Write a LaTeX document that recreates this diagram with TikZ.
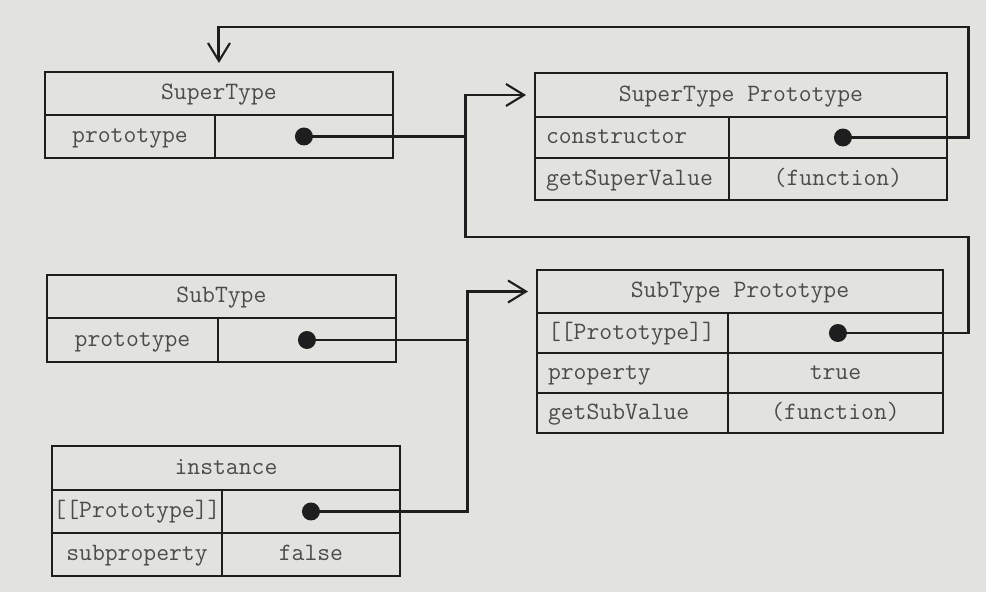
\documentclass[tikz,border=0pt]{standalone}
\usetikzlibrary{arrows.meta}

\definecolor{paper}{RGB}{226,226,223}
\definecolor{ink}{RGB}{30,30,30}

\newcommand*{\busx}{465}
\newcommand*{\rightx}{968}

\begin{document}
\begin{tikzpicture}[x=0.02cm,y=-0.02cm,
	cell/.style={draw=ink,line width=1.5pt,inner sep=0pt,outer sep=0pt,anchor=north west,
		minimum height=0.86cm,text height=9pt,text depth=2pt,
		font=\fontsize{14.2}{16}\ttfamily,text=ink!80},
	keycell/.style={cell,align=left,text width=#1,inner xsep=0.22cm},
	dot/.style={circle,fill=ink,inner sep=0pt,minimum size=0.36cm},
	link/.style={draw=ink,line width=1.7pt},
	pointer/.style={link,-{Straight Barb[length=0.36cm,width=0.44cm,line width=1.2pt]},shorten >=0.18cm}]

	\fill[paper] (0,0) rectangle (986,592);

	% SuperType
	\node[cell,minimum width=6.96cm] (superhead) at (45,72) {SuperType};
	\node[cell,minimum width=3.40cm] (superkey) at (superhead.south west) {prototype};
	\node[cell,minimum width=3.56cm] (superval) at (superkey.north east) {};
	\node[dot] (superdot) at (superval.center) {};

	% SuperType Prototype
	\node[cell,minimum width=8.24cm,minimum height=0.88cm] (superprohead) at (535,73) {SuperType Prototype};
	\node[keycell=3.44cm,minimum height=0.82cm] (constrkey) at (superprohead.south west) {constructor};
	\node[cell,minimum width=4.36cm,minimum height=0.82cm] (constrval) at (constrkey.north east) {};
	\node[keycell=3.44cm,minimum height=0.84cm] (getsuperkey) at (constrkey.south west) {getSuperValue};
	\node[cell,minimum width=4.36cm,minimum height=0.84cm] (getsuperval) at (getsuperkey.north east) {(function)};
	\node[dot] (constrdot) at ([xshift=0.1cm]constrval.center) {};

	% SubType
	\node[cell,minimum width=6.98cm] (subhead) at (47,275) {SubType};
	\node[cell,minimum width=3.42cm,minimum height=0.88cm] (subkey) at (subhead.south west) {prototype};
	\node[cell,minimum width=3.56cm,minimum height=0.88cm] (subval) at (subkey.north east) {};
	\node[dot] (subdot) at (subval.center) {};

	% SubType Prototype
	\node[cell,minimum width=8.12cm] (subprohead) at (537,270) {SubType Prototype};
	\node[keycell=3.38cm,minimum height=0.80cm] (subprotokey) at (subprohead.south west) {[[Prototype]]};
	\node[cell,minimum width=4.30cm,minimum height=0.80cm] (subprotoval) at (subprotokey.north east) {};
	\node[keycell=3.38cm,minimum height=0.80cm] (propkey) at (subprotokey.south west) {property};
	\node[cell,minimum width=4.30cm,minimum height=0.80cm] (propval) at (propkey.north east) {true};
	\node[keycell=3.38cm,minimum height=0.80cm] (getsubkey) at (propkey.south west) {getSubValue};
	\node[cell,minimum width=4.30cm,minimum height=0.80cm] (getsubval) at (getsubkey.north east) {(function)};
	\node[dot] (subprodot) at ([xshift=0.05cm]subprotoval.center) {};

	% instance
	\node[cell,minimum width=6.96cm,minimum height=0.88cm] (insthead) at (52,446) {instance};
	\node[cell,minimum width=3.40cm] (instkey) at (insthead.south west) {[[Prototype]]};
	\node[cell,minimum width=3.56cm] (instval) at (instkey.north east) {};
	\node[cell,minimum width=3.40cm] (subpropkey) at (instkey.south west) {subproperty};
	\node[cell,minimum width=3.56cm] (subpropval) at (subpropkey.north east) {false};
	\node[dot] (instdot) at (instval.center) {};

	% bends
	\coordinate (supbus) at (\busx,237);
	\coordinate (subbus) at (467,293);
	\coordinate (righttop) at (\rightx,27);
	\coordinate (rightmid) at (\rightx,237);

	% pointers
	\draw[pointer] (superdot.center) -- (superdot -| supbus) |- (superprohead.west);
	\draw[link] (subprodot.center) -| (rightmid) -| (superdot -| supbus);
	\draw[pointer] (constrdot.center) -| (righttop) -| (superhead.north);
	\draw[link] (subdot.center) -- (subdot -| subbus);
	\draw[pointer] (instdot.center) -- (instdot -| subbus) |- (subprohead.west);

\end{tikzpicture}
\end{document}
